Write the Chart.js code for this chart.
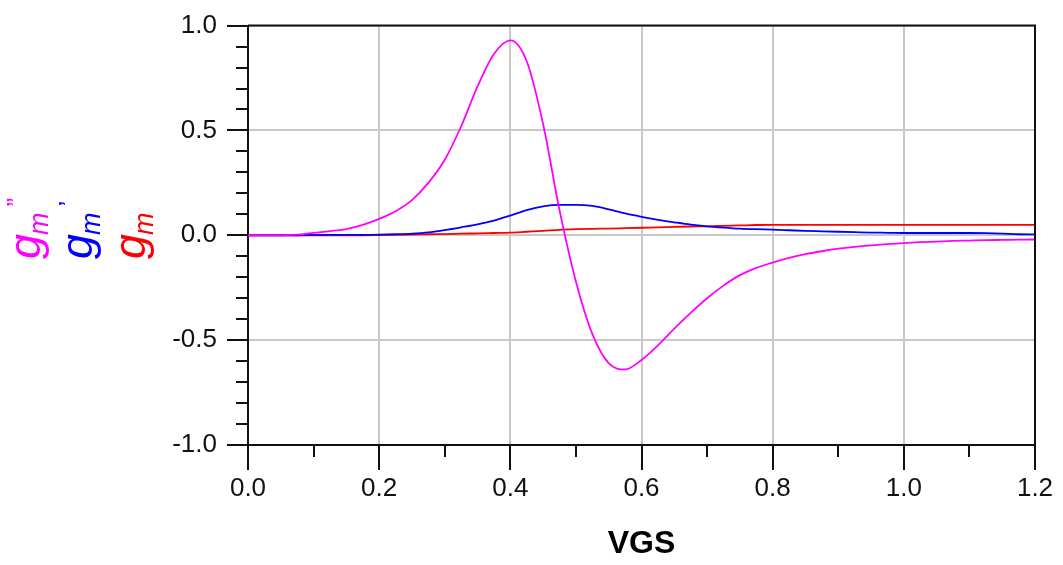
<!DOCTYPE html>
<html>
<head>
<meta charset="utf-8">
<title>gm derivatives vs VGS</title>
<script src="https://cdn.jsdelivr.net/npm/chart.js@4.4.1/dist/chart.umd.min.js"></script>
<style>
    html, body { margin: 0; padding: 0; background: #fff; }
    #wrap { width: 1063px; height: 565px; position: relative; }
</style>
</head>
<body>
<div id="wrap"><canvas id="graphique"></canvas></div>
<script>
// VGS sweep (V)
const vgs = [
    0.000, 0.025, 0.050, 0.075, 0.100, 0.125, 0.150, 0.175,
    0.200, 0.225, 0.250, 0.275, 0.300, 0.325, 0.350, 0.375,
    0.400, 0.425, 0.450, 0.475, 0.500, 0.525, 0.550, 0.575,
    0.600, 0.625, 0.650, 0.675, 0.700, 0.725, 0.750, 0.775,
    0.800, 0.825, 0.850, 0.875, 0.900, 0.925, 0.950, 0.975,
    1.000, 1.025, 1.050, 1.075, 1.100, 1.125, 1.150, 1.175, 1.200
];

// gm'' (magenta)
const gmSeconde = [
    0, 0, 0, 0.003, 0.012, 0.02, 0.03, 0.05,
    0.078, 0.115, 0.168, 0.25, 0.36, 0.52, 0.71, 0.865,
    0.93, 0.83, 0.53, 0.12, -0.22, -0.47, -0.61, -0.64,
    -0.595, -0.525, -0.445, -0.37, -0.30, -0.24, -0.19, -0.155,
    -0.13, -0.108, -0.09, -0.076, -0.064, -0.055, -0.048, -0.042,
    -0.037, -0.033, -0.03, -0.027, -0.025, -0.023, -0.022, -0.021, -0.02
];

// gm' (blue)
const gmPrime = [
    0, 0, 0, 0, 0.002, 0.002, 0.002, 0.002,
    0.003, 0.005, 0.008, 0.014, 0.025, 0.038, 0.052, 0.07,
    0.094, 0.12, 0.138, 0.145, 0.145, 0.14, 0.124, 0.104,
    0.088, 0.074, 0.062, 0.051, 0.043, 0.037, 0.032, 0.029,
    0.027, 0.024, 0.021, 0.019, 0.017, 0.015, 0.013, 0.012,
    0.011, 0.011, 0.011, 0.011, 0.011, 0.01, 0.008, 0.005, 0.004
];

// gm (red)
const gm = [
    0, 0, 0, 0, 0, 0, 0, 0,
    0.001, 0.002, 0.003, 0.005, 0.006, 0.008, 0.009, 0.011,
    0.013, 0.017, 0.021, 0.026, 0.029, 0.031, 0.032, 0.034,
    0.036, 0.038, 0.04, 0.042, 0.043, 0.045, 0.047, 0.049,
    0.05, 0.05, 0.05, 0.05, 0.05, 0.05, 0.05, 0.05,
    0.05, 0.05, 0.05, 0.05, 0.05, 0.05, 0.05, 0.05, 0.05
];

const xTicks = [0, 0.2, 0.4, 0.6, 0.8, 1.0, 1.2];
const yTicks = [-1.0, -0.5, 0.0, 0.5, 1.0];

const FONT = "'Liberation Sans', Arial, sans-serif";
Chart.defaults.font.family = FONT;

const toPoints = serie => serie.map((v, i) => ({ x: vgs[i], y: v }));

// cadre haut/droite, petites graduations et titre vertical colore
const cadrePlugin = {
    id: "cadre",
    afterDraw(chart) {
        const { ctx, chartArea: a, scales: { x, y } } = chart;
        ctx.save();
        ctx.strokeStyle = "#111";
        ctx.lineWidth = 2;
        ctx.beginPath();
        ctx.moveTo(a.left, a.top);
        ctx.lineTo(a.right, a.top);
        ctx.lineTo(a.right, a.bottom);
        ctx.stroke();

        ctx.beginPath();
        for (let k = -9; k <= 9; k++) {
            if (k % 5 === 0) continue;
            const py = Math.round(y.getPixelForValue(k / 10));
            ctx.moveTo(a.left - 12, py);
            ctx.lineTo(a.left, py);
        }
        for (let k = 1; k < 12; k += 2) {
            const px = Math.round(x.getPixelForValue(k / 10));
            ctx.moveTo(px, a.bottom);
            ctx.lineTo(px, a.bottom + 12);
        }
        ctx.stroke();

        const lignes = [
            { color: "#ff00ff", prime: "\u201D", bx: 40 },
            { color: "#0000ff", prime: "\u2019", bx: 92 },
            { color: "#ff0000", prime: "", bx: 145 }
        ];
        lignes.forEach(l => {
            ctx.save();
            ctx.translate(l.bx, 259);
            ctx.rotate(-Math.PI / 2);
            ctx.fillStyle = l.color;
            ctx.textBaseline = "alphabetic";
            ctx.textAlign = "left";
            ctx.font = `italic 45px ${FONT}`;
            ctx.fillText("g", 0, 0);
            let w = ctx.measureText("g").width;
            ctx.font = `italic 27px ${FONT}`;
            ctx.fillText("m", w - 1, 8);
            w += ctx.measureText("m").width;
            if (l.prime) {
                ctx.font = `26px ${FONT}`;
                ctx.fillText(l.prime, w + 5, -15);
            }
            ctx.restore();
        });
        ctx.restore();
    }
};

new Chart(document.getElementById("graphique").getContext("2d"), {
    type: "line",
    data: {
        datasets: [
            { label: "gm''", data: toPoints(gmSeconde), borderColor: "#ff00ff" },
            { label: "gm'", data: toPoints(gmPrime), borderColor: "#0000ff" },
            { label: "gm", data: toPoints(gm), borderColor: "#ff0000" }
        ].map(d => ({
            ...d,
            borderWidth: 1.8,
            pointRadius: 0,
            fill: false,
            cubicInterpolationMode: "monotone"
        }))
    },
    options: {
        responsive: true,
        maintainAspectRatio: false,
        animation: false,
        layout: { padding: { left: 0, top: 20, right: 28, bottom: 0 } },
        plugins: {
            legend: { display: false },
            tooltip: { enabled: false }
        },
        scales: {
            x: {
                type: "linear",
                min: 0,
                max: 1.2,
                afterBuildTicks: s => { s.ticks = xTicks.map(v => ({ value: v })); },
                afterFit: s => { s.height = 120; },
                ticks: {
                    callback: v => v.toFixed(1),
                    font: { size: 26 },
                    color: "#111",
                    padding: 3,
                    maxRotation: 0
                },
                grid: {
                    color: "#c8c8c8",
                    lineWidth: 2,
                    tickLength: 25,
                    tickColor: "#111",
                    tickWidth: 2
                },
                border: { color: "#111", width: 2 },
                title: {
                    display: true,
                    text: "VGS",
                    color: "#000",
                    font: { size: 32, weight: "bold" },
                    padding: { top: 0, bottom: 2 }
                }
            },
            y: {
                min: -1,
                max: 1,
                afterBuildTicks: s => { s.ticks = yTicks.map(v => ({ value: v })); },
                afterFit: s => { s.width = 248; },
                ticks: {
                    callback: v => v.toFixed(1),
                    font: { size: 26 },
                    color: "#111",
                    padding: 10
                },
                grid: {
                    color: "#c8c8c8",
                    lineWidth: 2,
                    tickLength: 21,
                    tickColor: "#111",
                    tickWidth: 2
                },
                border: { color: "#111", width: 2 }
            }
        }
    },
    plugins: [cadrePlugin]
});
</script>
</body>
</html>
